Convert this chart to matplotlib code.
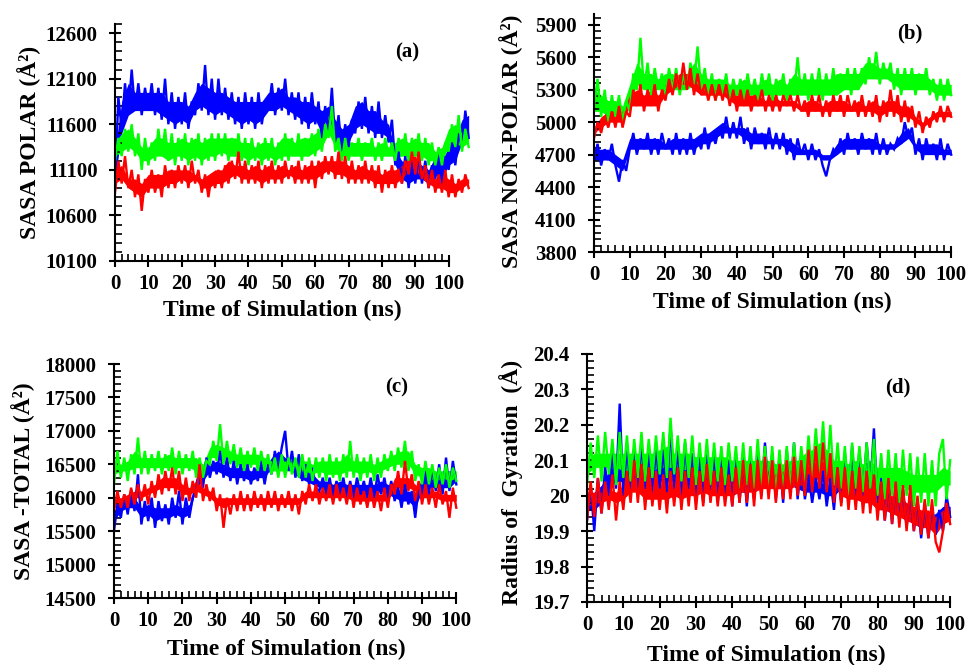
import matplotlib
matplotlib.use("Agg")
import matplotlib.pyplot as plt
from matplotlib.ticker import AutoMinorLocator, FixedLocator

plt.rcParams['font.family'] = ['Liberation Serif', 'DejaVu Serif']
plt.rcParams['font.weight'] = 'bold'

# ================= Panel (a): SASA polar =================
time_a = list(range(0, 107))          # 1 ns samples (peaks / troughs)
band_t_a = list(range(0, 107, 2))     # 2 ns samples of the dense core of each trace
a_blue = [10900, 11900, 11550, 12050, 11700, 12200, 11750, 12050, 11700, 12000,
          11750, 12050, 11700, 12000, 11650, 12100, 11600, 11950, 11550, 11900,
          11600, 11950, 11550, 11850, 11700, 12050, 11750, 12250, 11700, 12100,
          11650, 12100, 11700, 12000, 11650, 11950, 11600, 11900, 11550, 11950,
          11600, 11900, 11550, 11950, 11600, 11850, 11750, 12050, 11700, 12000,
          11750, 12100, 11700, 11950, 11650, 11950, 11600, 11900, 11550, 11950,
          11600, 11850, 11450, 11800, 11500, 12000, 11400, 11700, 11300, 11600,
          11350, 11650, 11500, 11850, 11550, 11900, 11500, 11800, 11450, 11850,
          11450, 11700, 11400, 11650, 11150, 11300, 10950, 11250, 10900, 11200,
          10950, 11250, 10950, 11200, 10900, 11150, 11000, 11300, 10950, 11250,
          11100, 11400, 11150, 11500, 11350, 11750, 11450]
a_green = [11200, 11450, 11250, 11550, 11300, 11600, 11250, 11500, 11100, 11450,
           11150, 11400, 11200, 11550, 11250, 11550, 11200, 11500, 11150, 11450,
           11200, 11500, 11150, 11450, 11200, 11500, 11150, 11450, 11200, 11500,
           11200, 11500, 11250, 11500, 11200, 11450, 11250, 11500, 11200, 11450,
           11150, 11450, 11200, 11400, 11150, 11450, 11200, 11450, 11150, 11400,
           11200, 11500, 11200, 11450, 11250, 11500, 11200, 11450, 11250, 11500,
           11250, 11550, 11300, 11600, 11450, 11800, 11300, 11450, 11200, 11450,
           11200, 11400, 11250, 11450, 11200, 11400, 11250, 11450, 11200, 11400,
           11200, 11450, 11250, 11400, 11200, 11450, 11250, 11500, 11200, 11450,
           11250, 11500, 11200, 11450, 11150, 11400, 11150, 11350, 11150, 11400,
           11300, 11600, 11350, 11700, 11300, 11550, 11350]
a_red = [10850, 11200, 10950, 11250, 10900, 11100, 10800, 11050, 10650, 11000,
         10850, 11100, 10850, 11050, 10800, 11150, 10900, 11100, 10900, 11150,
         10950, 11150, 10900, 11200, 10950, 11100, 10850, 11050, 10800, 11050,
         10900, 11100, 10900, 11150, 10950, 11200, 11000, 11300, 10950, 11200,
         10950, 11150, 10950, 11200, 10900, 11150, 10950, 11200, 10950, 11150,
         10950, 11200, 11000, 11150, 10950, 11200, 10950, 11150, 10950, 11200,
         10900, 11200, 11000, 11250, 11050, 11250, 11000, 11300, 11000, 11250,
         10950, 11200, 10950, 11150, 10950, 11200, 10950, 11150, 10900, 11150,
         10850, 11100, 10900, 11150, 10900, 11100, 10950, 11200, 11050, 11300,
         11050, 11300, 11000, 11150, 10900, 11100, 10850, 11050, 10850, 11100,
         10800, 11050, 10800, 11000, 10850, 11050, 10900]
a_blue_lo = [11000, 11500, 11700, 11750, 11750, 11750, 11750, 11700, 11650, 11600,
             11650, 11600, 11750, 11800, 11750, 11700, 11750, 11700, 11650, 11600,
             11650, 11600, 11650, 11750, 11750, 11800, 11750, 11700, 11650, 11600,
             11650, 11500, 11550, 11450, 11350, 11400, 11550, 11600, 11550, 11500,
             11500, 11450, 11150, 11000, 10950, 11000, 11000, 10950, 11050, 11000,
             11150, 11200, 11400, 11450]
a_blue_hi = [11300, 11850, 12050, 11950, 11950, 11950, 11950, 11950, 11850, 11850,
             11850, 11800, 11950, 12050, 12000, 11950, 11950, 11900, 11850, 11850,
             11850, 11850, 11850, 11950, 11950, 12000, 11900, 11900, 11850, 11850,
             11800, 11750, 11800, 11650, 11550, 11600, 11800, 11850, 11750, 11750,
             11650, 11600, 11300, 11200, 11150, 11200, 11150, 11100, 11250, 11200,
             11350, 11450, 11650, 11700]
a_green_lo = [11250, 11300, 11350, 11300, 11200, 11200, 11250, 11250, 11200, 11250,
              11250, 11200, 11250, 11200, 11250, 11250, 11300, 11250, 11250, 11250,
              11200, 11250, 11200, 11250, 11200, 11250, 11250, 11250, 11250, 11250,
              11300, 11350, 11500, 11350, 11250, 11250, 11250, 11250, 11250, 11250,
              11250, 11250, 11250, 11250, 11250, 11250, 11250, 11200, 11200, 11200,
              11350, 11400, 11350, 11400]
a_green_hi = [11400, 11500, 11550, 11450, 11350, 11350, 11450, 11450, 11400, 11400,
              11450, 11400, 11450, 11400, 11450, 11450, 11450, 11450, 11450, 11400,
              11400, 11350, 11400, 11400, 11350, 11450, 11450, 11400, 11450, 11450,
              11500, 11550, 11700, 11450, 11400, 11400, 11400, 11400, 11400, 11350,
              11400, 11350, 11400, 11450, 11400, 11450, 11400, 11400, 11300, 11350,
              11550, 11600, 11500, 11500]
a_red_lo = [10950, 11000, 10900, 10850, 10800, 10900, 10900, 10900, 10950, 10950,
            11000, 10950, 11000, 10900, 10900, 10950, 10950, 11000, 11050, 11000,
            11000, 11000, 10950, 11000, 11000, 11000, 11050, 11000, 11000, 11000,
            11000, 11050, 11100, 11050, 11050, 11000, 11000, 11000, 11000, 10950,
            10950, 10950, 10950, 11000, 11100, 11100, 11000, 10950, 10900, 10900,
            10850, 10850, 10900, 10950]
a_red_hi = [11100, 11150, 11000, 11000, 10950, 11050, 11050, 11050, 11100, 11100,
            11100, 11100, 11050, 11000, 11050, 11100, 11100, 11200, 11150, 11150,
            11100, 11150, 11100, 11150, 11100, 11150, 11100, 11150, 11100, 11150,
            11150, 11200, 11200, 11200, 11200, 11150, 11100, 11150, 11100, 11100,
            11050, 11100, 11100, 11150, 11250, 11250, 11100, 11050, 11000, 11050,
            11000, 10950, 11000, 11000]

# ================= Panel (b): SASA non-polar =================
time_b = list(range(0, 101))
band_t_b = list(range(0, 101, 2))
b_green = [5150, 5400, 5050, 5300, 5000, 5250, 5050, 5250, 5000, 5200,
           5100, 5450, 5300, 5780, 5300, 5550, 5250, 5500, 5300, 5450,
           5250, 5500, 5300, 5500, 5250, 5450, 5300, 5550, 5350, 5700,
           5300, 5500, 5250, 5450, 5200, 5400, 5250, 5450, 5200, 5400,
           5250, 5400, 5200, 5450, 5250, 5400, 5200, 5450, 5250, 5450,
           5200, 5400, 5250, 5450, 5200, 5400, 5250, 5600, 5250, 5450,
           5200, 5450, 5250, 5500, 5200, 5450, 5250, 5500, 5250, 5450,
           5300, 5500, 5250, 5500, 5300, 5500, 5350, 5600, 5400, 5650,
           5350, 5550, 5400, 5550, 5300, 5500, 5250, 5500, 5300, 5500,
           5250, 5450, 5300, 5500, 5250, 5400, 5200, 5400, 5200, 5400,
           5250]
b_red = [4850, 5000, 4900, 5050, 4950, 5100, 4950, 5150, 4950, 5100,
         5050, 5300, 5150, 5350, 5100, 5300, 5150, 5350, 5100, 5300,
         5200, 5400, 5250, 5450, 5300, 5550, 5300, 5500, 5250, 5450,
         5250, 5350, 5200, 5350, 5200, 5350, 5200, 5350, 5150, 5300,
         5100, 5300, 5150, 5300, 5100, 5250, 5150, 5300, 5100, 5250,
         5100, 5250, 5100, 5250, 5150, 5250, 5100, 5250, 5100, 5200,
         5050, 5250, 5100, 5250, 5050, 5200, 5050, 5250, 5100, 5250,
         5050, 5250, 5100, 5200, 5050, 5250, 5050, 5200, 5050, 5250,
         5000, 5200, 5050, 5300, 5050, 5250, 5000, 5200, 5000, 5150,
         4950, 5100, 4900, 5050, 4950, 5100, 5000, 5150, 5000, 5150,
         5050]
b_blue = [4650, 4800, 4600, 4750, 4650, 4800, 4600, 4450, 4650, 4550,
          4750, 4900, 4700, 4850, 4750, 4900, 4700, 4850, 4700, 4900,
          4750, 4850, 4700, 4900, 4700, 4850, 4700, 4900, 4700, 4850,
          4750, 4950, 4750, 4900, 4800, 4950, 4850, 5050, 4850, 5000,
          4850, 5050, 4800, 4950, 4750, 4950, 4800, 4900, 4750, 4950,
          4750, 4900, 4750, 4900, 4700, 4850, 4650, 4850, 4700, 4800,
          4650, 4800, 4650, 4750, 4600, 4500, 4650, 4750, 4700, 4850,
          4700, 4900, 4750, 4850, 4700, 4900, 4750, 4850, 4700, 4900,
          4700, 4850, 4700, 4800, 4750, 4850, 4800, 5000, 4850, 4950,
          4700, 4850, 4650, 4850, 4700, 4800, 4650, 4850, 4650, 4800,
          4700]
b_green_lo = [5100, 5100, 5050, 5050, 5050, 5150, 5350, 5300, 5300, 5300,
              5300, 5300, 5300, 5300, 5350, 5300, 5250, 5250, 5250, 5250,
              5250, 5250, 5250, 5250, 5250, 5250, 5250, 5250, 5250, 5250,
              5250, 5250, 5250, 5250, 5250, 5300, 5300, 5300, 5400, 5400,
              5400, 5400, 5350, 5300, 5300, 5300, 5300, 5300, 5250, 5250,
              5250]
b_green_hi = [5300, 5250, 5200, 5200, 5150, 5350, 5550, 5450, 5450, 5400,
              5450, 5450, 5400, 5450, 5550, 5450, 5400, 5400, 5400, 5350,
              5350, 5400, 5350, 5350, 5400, 5350, 5400, 5350, 5450, 5400,
              5400, 5400, 5400, 5400, 5450, 5450, 5450, 5450, 5550, 5550,
              5500, 5500, 5450, 5450, 5450, 5450, 5450, 5400, 5350, 5350,
              5350]
b_red_lo = [4900, 4950, 5000, 5000, 5000, 5150, 5150, 5150, 5150, 5150,
            5250, 5300, 5350, 5350, 5300, 5250, 5250, 5250, 5250, 5200,
            5150, 5150, 5150, 5150, 5150, 5150, 5150, 5150, 5150, 5100,
            5100, 5100, 5100, 5100, 5100, 5100, 5100, 5100, 5100, 5100,
            5050, 5100, 5100, 5050, 5050, 5000, 4950, 5000, 5050, 5050,
            5050]
b_red_hi = [4950, 5050, 5100, 5100, 5100, 5250, 5300, 5250, 5300, 5250,
            5350, 5400, 5450, 5450, 5400, 5300, 5300, 5300, 5300, 5250,
            5250, 5250, 5250, 5250, 5200, 5250, 5200, 5200, 5200, 5150,
            5200, 5200, 5150, 5200, 5200, 5200, 5150, 5200, 5150, 5200,
            5150, 5200, 5200, 5150, 5150, 5050, 5000, 5050, 5100, 5100,
            5100]
b_blue_lo = [4650, 4650, 4650, 4600, 4550, 4750, 4750, 4750, 4750, 4750,
             4750, 4750, 4750, 4750, 4750, 4800, 4800, 4850, 4900, 4900,
             4900, 4850, 4800, 4800, 4800, 4800, 4800, 4750, 4700, 4700,
             4700, 4700, 4650, 4650, 4700, 4750, 4750, 4750, 4750, 4750,
             4750, 4750, 4750, 4800, 4850, 4750, 4700, 4700, 4700, 4700,
             4700]
b_blue_hi = [4750, 4750, 4750, 4700, 4650, 4850, 4850, 4850, 4850, 4850,
             4800, 4850, 4850, 4850, 4850, 4900, 4900, 4950, 5000, 4950,
             4950, 4950, 4900, 4900, 4900, 4850, 4850, 4850, 4800, 4750,
             4750, 4750, 4700, 4700, 4800, 4850, 4850, 4850, 4850, 4850,
             4800, 4800, 4800, 4900, 4950, 4800, 4800, 4800, 4800, 4750,
             4750]

# ================= Panel (c): SASA total =================
time_c = list(range(0, 101))
band_t_c = list(range(0, 101, 2))
c_green = [16200, 16700, 16300, 16600, 16250, 16650, 16350, 16900, 16350, 16700,
           16350, 16650, 16400, 16700, 16350, 16650, 16400, 16750, 16350, 16700,
           16350, 16650, 16400, 16700, 16300, 16600, 16300, 16550, 16500, 16850,
           16550, 17100, 16500, 16850, 16500, 16800, 16450, 16750, 16400, 16700,
           16450, 16750, 16400, 16700, 16400, 16650, 16350, 16600, 16300, 16650,
           16300, 16600, 16350, 16600, 16300, 16650, 16300, 16600, 16250, 16600,
           16300, 16600, 16250, 16650, 16300, 16600, 16250, 16650, 16300, 16850,
           16300, 16650, 16250, 16600, 16300, 16650, 16250, 16600, 16300, 16650,
           16400, 16700, 16400, 16750, 16450, 16850, 16400, 16700, 16250, 16500,
           16200, 16550, 16200, 16500, 16150, 16450, 16200, 16500, 16150, 16450,
           16250]
c_blue = [15500, 15900, 15700, 16050, 15750, 16100, 15800, 16350, 15600, 15950,
          15650, 16000, 15550, 15950, 15650, 15900, 15600, 16000, 15700, 16100,
          15600, 16000, 15700, 16000, 16100, 16400, 16150, 16600, 16300, 16550,
          16350, 16700, 16300, 16600, 16250, 16550, 16200, 16500, 16250, 16500,
          16200, 16450, 16250, 16550, 16200, 16500, 16350, 16700, 16400, 16750,
          17000, 16400, 16700, 16300, 16650, 16250, 16500, 16200, 16450, 16150,
          16100, 16300, 16050, 16300, 16000, 16250, 16050, 16300, 16000, 16250,
          16000, 16300, 16050, 16250, 16000, 16300, 16000, 16350, 16050, 16300,
          16000, 16250, 15950, 16150, 15850, 16200, 15900, 16100, 15700, 16150,
          16050, 16400, 16050, 16450, 16100, 16500, 16050, 16600, 16100, 16550,
          16200]
c_red = [15800, 16100, 15850, 16050, 15850, 16150, 15900, 16200, 15950, 16200,
         15900, 16250, 16000, 16350, 16050, 16400, 16100, 16450, 16050, 16400,
         15950, 16300, 15950, 16250, 16000, 16500, 15950, 16200, 15950, 16150,
         15800, 16050, 15550, 16000, 15750, 16050, 15800, 16100, 15800, 16050,
         15800, 16100, 15850, 16050, 15800, 16100, 15850, 16100, 15800, 16050,
         15850, 16100, 15800, 16050, 15750, 16100, 15900, 16200, 15950, 16200,
         15900, 16150, 15950, 16200, 15900, 16200, 15950, 16150, 15900, 16200,
         15850, 16150, 15900, 16100, 15850, 16150, 15850, 16100, 15800, 16150,
         15850, 16200, 16050, 16400, 16050, 16550, 16100, 16350, 15950, 16250,
         15900, 16200, 15900, 16150, 15850, 16200, 15900, 16100, 15700, 16150,
         15850]
c_green_lo = [16350, 16400, 16400, 16450, 16450, 16450, 16450, 16450, 16450, 16450,
              16450, 16450, 16400, 16400, 16600, 16600, 16600, 16550, 16500, 16500,
              16500, 16500, 16450, 16400, 16400, 16400, 16400, 16400, 16400, 16350,
              16400, 16350, 16350, 16350, 16400, 16400, 16350, 16400, 16350, 16400,
              16450, 16500, 16500, 16500, 16350, 16300, 16300, 16250, 16300, 16250,
              16300]
c_green_hi = [16550, 16500, 16550, 16700, 16600, 16600, 16600, 16600, 16650, 16600,
              16600, 16600, 16600, 16500, 16750, 16800, 16750, 16700, 16650, 16650,
              16650, 16650, 16600, 16550, 16550, 16550, 16550, 16550, 16550, 16500,
              16550, 16550, 16550, 16550, 16650, 16550, 16550, 16550, 16500, 16550,
              16600, 16650, 16700, 16700, 16500, 16450, 16450, 16400, 16400, 16400,
              16400]
c_blue_lo = [15650, 15800, 15850, 15850, 15700, 15750, 15650, 15700, 15700, 15750,
             15700, 15750, 16150, 16250, 16400, 16400, 16350, 16300, 16300, 16300,
             16250, 16300, 16300, 16450, 16500, 16450, 16400, 16300, 16250, 16200,
             16150, 16100, 16050, 16100, 16050, 16050, 16050, 16050, 16050, 16100,
             16050, 16000, 15950, 15950, 15850, 16100, 16150, 16150, 16150, 16150,
             16250]
c_blue_hi = [15800, 15950, 16000, 16000, 15850, 15900, 15850, 15850, 15850, 15900,
             15850, 15900, 16300, 16450, 16500, 16550, 16500, 16450, 16450, 16450,
             16400, 16450, 16450, 16600, 16700, 16600, 16550, 16450, 16400, 16350,
             16250, 16250, 16200, 16250, 16200, 16200, 16200, 16200, 16200, 16250,
             16200, 16150, 16100, 16100, 16050, 16300, 16350, 16350, 16400, 16400,
             16350]
c_red_lo = [15900, 15950, 15950, 16000, 16000, 16050, 16100, 16150, 16150, 16150,
            16050, 16050, 16100, 16050, 16000, 15900, 15850, 15900, 15900, 15900,
            15900, 15900, 15900, 15900, 15900, 15900, 15900, 15900, 16000, 16000,
            16000, 16000, 16000, 16000, 16000, 15950, 15950, 15950, 15950, 15950,
            15950, 16150, 16150, 16150, 16100, 16000, 16000, 16000, 15950, 15950,
            15950]
c_red_hi = [16000, 16000, 16050, 16100, 16100, 16150, 16200, 16300, 16300, 16300,
            16200, 16150, 16250, 16150, 16100, 16000, 16000, 16000, 16000, 16000,
            16000, 16000, 16000, 16000, 16000, 16000, 16000, 16000, 16100, 16100,
            16100, 16100, 16100, 16100, 16100, 16050, 16050, 16050, 16050, 16050,
            16050, 16300, 16300, 16300, 16200, 16100, 16100, 16100, 16050, 16050,
            16050]

# ================= Panel (d): radius of gyration =================
time_d = list(range(0, 101))
band_t_d = list(range(0, 101, 2))
d_green = [20.03, 20.15, 20.05, 20.17, 20.04, 20.18, 20.06, 20.16, 20.03, 20.18,
           20.05, 20.17, 20.04, 20.16, 20.05, 20.18, 20.04, 20.16, 20.05, 20.17,
           20.06, 20.18, 20.05, 20.22, 20.06, 20.17, 20.04, 20.16, 20.05, 20.17,
           20.03, 20.15, 20.04, 20.16, 20.03, 20.15, 20.04, 20.14, 20.03, 20.15,
           20.04, 20.14, 20.02, 20.15, 20.03, 20.14, 20.02, 20.16, 20.03, 20.14,
           20.01, 20.14, 20.00, 20.13, 20.01, 20.14, 20.02, 20.15, 20.03, 20.14,
           20.04, 20.17, 20.05, 20.19, 20.06, 20.21, 20.05, 20.20, 20.03, 20.15,
           20.02, 20.14, 20.00, 20.15, 20.02, 20.14, 20.01, 20.15, 20.02, 20.16,
           20.00, 20.12, 19.99, 20.13, 20.00, 20.12, 19.98, 20.13, 20.00, 20.12,
           19.97, 20.11, 19.98, 20.12, 19.97, 20.10, 19.97, 20.12, 20.16, 19.99,
           20.10]
d_blue = [19.93, 20.03, 19.90, 20.05, 19.95, 20.08, 20.00, 20.12, 20.02, 20.26,
          20.00, 20.14, 20.02, 20.13, 20.01, 20.15, 20.02, 20.12, 20.00, 20.14,
          20.02, 20.13, 20.01, 20.20, 20.02, 20.13, 20.00, 20.15, 20.02, 20.12,
          19.99, 20.11, 19.98, 20.13, 20.00, 20.12, 19.98, 20.12, 19.99, 20.10,
          19.97, 20.12, 19.98, 20.11, 19.97, 20.10, 19.99, 20.12, 20.00, 20.15,
          20.01, 20.12, 19.99, 20.11, 19.98, 20.13, 20.00, 20.15, 19.99, 20.10,
          19.99, 20.06, 19.98, 20.05, 19.99, 20.07, 19.97, 20.05, 19.96, 20.08,
          19.98, 20.12, 19.99, 20.14, 19.98, 20.13, 20.00, 20.15, 20.02, 20.19,
          19.98, 20.05, 19.93, 20.04, 19.92, 20.03, 19.93, 20.02, 19.91, 20.01,
          19.90, 19.99, 19.88, 19.98, 19.88, 19.97, 19.89, 19.96, 19.90, 20.00,
          19.94]
d_red = [19.93, 20.04, 19.94, 20.05, 19.95, 20.04, 19.96, 20.06, 19.93, 20.04,
         19.96, 20.07, 19.98, 20.10, 19.98, 20.09, 19.96, 20.08, 19.97, 20.07,
         19.96, 20.06, 19.95, 20.07, 19.97, 20.08, 19.96, 20.07, 19.97, 20.08,
         19.96, 20.07, 19.97, 20.09, 19.98, 20.07, 19.97, 20.08, 19.97, 20.06,
         19.97, 20.08, 19.98, 20.10, 19.98, 20.09, 19.97, 20.10, 19.99, 20.11,
         19.99, 20.10, 19.98, 20.09, 19.99, 20.10, 19.99, 20.11, 20.00, 20.10,
         20.00, 20.13, 20.01, 20.14, 20.02, 20.15, 20.01, 20.12, 19.98, 20.08,
         19.97, 20.08, 19.96, 20.07, 19.96, 20.08, 19.95, 20.07, 19.95, 20.06,
         19.93, 20.04, 19.93, 20.05, 19.92, 20.04, 19.91, 20.03, 19.90, 20.03,
         19.90, 20.00, 19.89, 19.99, 19.88, 19.99, 19.87, 19.84, 19.90, 19.98,
         19.92]
d_green_lo = [20.06, 20.08, 20.08, 20.08, 20.08, 20.07, 20.07, 20.08, 20.07, 20.07,
              20.08, 20.08, 20.08, 20.07, 20.08, 20.06, 20.06, 20.06, 20.06, 20.06,
              20.06, 20.06, 20.06, 20.06, 20.06, 20.05, 20.04, 20.04, 20.05, 20.06,
              20.07, 20.08, 20.09, 20.08, 20.06, 20.05, 20.04, 20.05, 20.04, 20.05,
              20.03, 20.03, 20.03, 20.03, 20.02, 20.01, 20.01, 20.01, 20.01, 20.03,
              20.03]
d_green_hi = [20.10, 20.12, 20.12, 20.12, 20.12, 20.12, 20.12, 20.12, 20.12, 20.12,
              20.13, 20.14, 20.12, 20.12, 20.12, 20.11, 20.11, 20.11, 20.11, 20.11,
              20.10, 20.10, 20.10, 20.10, 20.10, 20.10, 20.09, 20.09, 20.10, 20.10,
              20.12, 20.13, 20.15, 20.13, 20.10, 20.10, 20.09, 20.10, 20.09, 20.10,
              20.08, 20.08, 20.08, 20.08, 20.07, 20.06, 20.06, 20.06, 20.06, 20.08,
              20.07]
d_blue_lo = [19.96, 19.96, 19.98, 20.03, 20.04, 20.04, 20.04, 20.04, 20.04, 20.04,
             20.04, 20.04, 20.04, 20.04, 20.03, 20.02, 20.02, 20.02, 20.02, 20.01,
             20.01, 20.01, 20.01, 20.02, 20.03, 20.03, 20.02, 20.02, 20.03, 20.02,
             20.01, 20.01, 20.01, 20.00, 20.00, 20.02, 20.03, 20.03, 20.03, 20.04,
             20.00, 19.96, 19.95, 19.95, 19.94, 19.92, 19.91, 19.91, 19.92, 19.93,
             19.94]
d_blue_hi = [19.99, 20.01, 20.03, 20.07, 20.09, 20.08, 20.08, 20.09, 20.08, 20.08,
             20.08, 20.09, 20.08, 20.08, 20.07, 20.07, 20.07, 20.07, 20.07, 20.06,
             20.06, 20.06, 20.06, 20.07, 20.08, 20.07, 20.07, 20.07, 20.08, 20.06,
             20.04, 20.03, 20.04, 20.03, 20.03, 20.06, 20.08, 20.08, 20.08, 20.10,
             20.03, 20.00, 19.99, 19.99, 19.98, 19.96, 19.95, 19.94, 19.95, 19.97,
             19.97]
d_red_lo = [19.97, 19.98, 19.98, 19.99, 19.98, 19.99, 20.01, 20.01, 19.99, 19.99,
            19.99, 19.99, 20.00, 19.99, 20.00, 20.00, 20.01, 20.00, 20.00, 20.00,
            20.00, 20.01, 20.01, 20.01, 20.02, 20.02, 20.02, 20.02, 20.02, 20.03,
            20.03, 20.04, 20.05, 20.05, 20.04, 20.00, 19.99, 19.99, 19.98, 19.98,
            19.96, 19.96, 19.95, 19.94, 19.93, 19.92, 19.91, 19.91, 19.89, 19.92,
            19.93]
d_red_hi = [20.01, 20.01, 20.01, 20.02, 20.01, 20.03, 20.05, 20.05, 20.04, 20.04,
            20.03, 20.03, 20.04, 20.04, 20.04, 20.04, 20.05, 20.04, 20.04, 20.04,
            20.04, 20.06, 20.06, 20.06, 20.07, 20.07, 20.06, 20.07, 20.07, 20.07,
            20.08, 20.09, 20.10, 20.09, 20.08, 20.05, 20.04, 20.04, 20.04, 20.03,
            20.01, 20.01, 20.00, 20.00, 19.98, 19.97, 19.96, 19.96, 19.94, 19.96,
            19.96]

x_ticks = list(range(0, 101, 10))
x_minor = list(range(0, 101, 2))
COLORS = ['#0000ff', '#00ff00', '#ff0000']   # blue, green, red

panels = [
    dict(rect=[115/968, 1-261/665, 357/968, 237/665], t=time_a, bt=band_t_a,
         series=[a_blue, a_green, a_red],
         bands=[(a_blue_lo, a_blue_hi), (a_green_lo, a_green_hi), (a_red_lo, a_red_hi)],
         xlim=(0, 107), ylim=(10100, 12700),
         yticks=list(range(10100, 12601, 500)), ytl=None,
         ylabel='SASA POLAR (Å²)', ylc=(-0.207, 0.5), xlc=(0.47, -0.165),
         tag='(a)', tagpos=(407, 52)),
    dict(rect=[594/968, 1-252/665, 359/968, 238/665], t=time_b, bt=band_t_b,
         series=[b_blue, b_green, b_red],
         bands=[(b_blue_lo, b_blue_hi), (b_green_lo, b_green_hi), (b_red_lo, b_red_hi)],
         xlim=(0, 100.5), ylim=(3800, 6000),
         yticks=list(range(3800, 5901, 300)), ytl=None,
         ylabel='SASA NON-POLAR (Å²)', ylc=(-0.199, 0.466), xlc=(0.497, -0.168),
         tag='(b)', tagpos=(910, 33)),
    dict(rect=[114/968, 1-598/665, 344/968, 234/665], t=time_c, bt=band_t_c,
         series=[c_blue, c_green, c_red],
         bands=[(c_blue_lo, c_blue_hi), (c_green_lo, c_green_hi), (c_red_lo, c_red_hi)],
         xlim=(0, 100.5), ylim=(14500, 18000),
         yticks=list(range(14500, 18001, 500)), ytl=None,
         ylabel='SASA -TOTAL (Å²)', ylc=(-0.231, 0.5), xlc=(0.5, -0.175),
         tag='(c)', tagpos=(397, 387)),
    dict(rect=[587/968, 1-602/665, 365/968, 248/665], t=time_d, bt=band_t_d,
         series=[d_blue, d_green, d_red],
         bands=[(d_blue_lo, d_blue_hi), (d_green_lo, d_green_hi), (d_red_lo, d_red_hi)],
         xlim=(0, 100.5), ylim=(19.7, 20.4),
         yticks=[19.7, 19.8, 19.9, 20.0, 20.1, 20.2, 20.3, 20.4],
         ytl=['19.7', '19.8', '19.9', '20', '20.1', '20.2', '20.3', '20.4'],
         ylabel='Radius of  Gyration  (Å)', ylc=(-0.174, 0.484), xlc=(0.49, -0.173),
         tag='(d)', tagpos=(898, 387)),
]

fig = plt.figure(figsize=(9.68, 6.65), dpi=100)
for p in panels:
    ax = fig.add_axes(p['rect'])
    for s, (lo, hi), c in zip(p['series'], p['bands'], COLORS):
        ax.fill_between(p['bt'], lo, hi, color=c, lw=0)
        ax.plot(p['t'], s, color=c, lw=1.7, solid_joinstyle='miter')
    ax.set_xlim(*p['xlim'])
    ax.set_ylim(*p['ylim'])
    ax.spines['top'].set_visible(False)
    ax.spines['right'].set_visible(False)
    for sp in ('left', 'bottom'):
        ax.spines[sp].set_linewidth(1.5)
    ax.spines['bottom'].set_bounds(0, 100)
    ax.set_xticks(x_ticks)
    ax.set_xticklabels([str(v) for v in x_ticks])
    ax.xaxis.set_minor_locator(FixedLocator(x_minor))
    ax.set_yticks(p['yticks'])
    if p['ytl'] is not None:
        ax.set_yticklabels(p['ytl'])
    ax.yaxis.set_minor_locator(AutoMinorLocator(5))
    ax.tick_params(which='major', direction='inout', length=9, width=1.5,
                   labelsize=15, colors='black')
    ax.tick_params(axis='y', which='major', pad=8)
    ax.tick_params(axis='x', which='major', pad=5)
    ax.tick_params(which='minor', direction='in', length=5, width=1.2)
    for lab in ax.get_xticklabels() + ax.get_yticklabels():
        lab.set_fontweight('bold')
    ax.set_ylabel(p['ylabel'], fontsize=17, fontweight='bold')
    ax.yaxis.set_label_coords(*p['ylc'])
    ax.set_xlabel('Time of Simulation (ns)', fontsize=17, fontweight='bold')
    ax.xaxis.set_label_coords(*p['xlc'])
    fig.text(p['tagpos'][0]/968, 1 - p['tagpos'][1]/665, p['tag'],
             fontsize=15, fontweight='bold', ha='center', va='center')

fig.savefig('out.png', dpi=100)
